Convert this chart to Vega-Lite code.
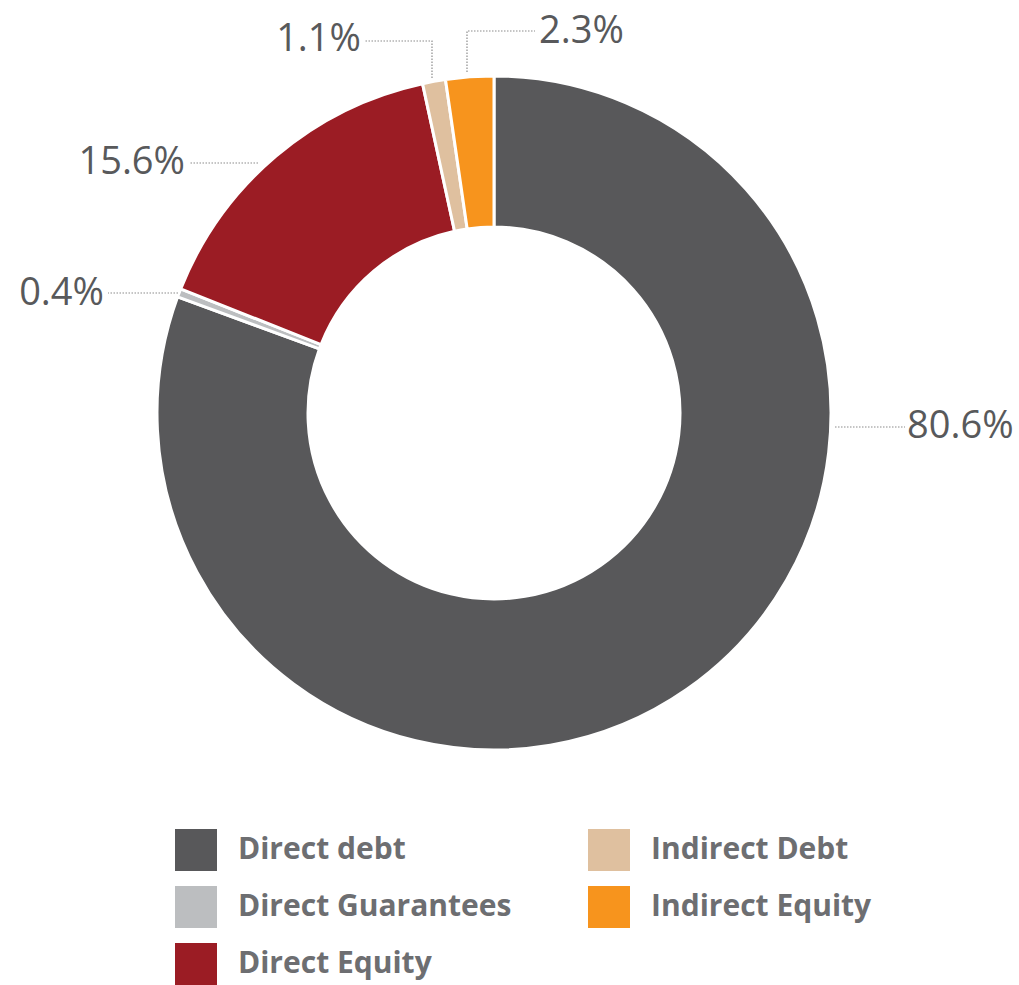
{
  "$schema": "https://vega.github.io/schema/vega-lite/v6.json",
  "width": 988,
  "height": 826,
  "padding": 0,
  "background": "white",
  "config": {"view": {"stroke": null}},
  "data": {
    "values": [
      {"category": "Direct debt", "share": 0.806, "rank": 1},
      {"category": "Direct Guarantees", "share": 0.004, "rank": 2},
      {"category": "Direct Equity", "share": 0.156, "rank": 3},
      {"category": "Indirect Debt", "share": 0.011, "rank": 4},
      {"category": "Indirect Equity", "share": 0.023, "rank": 5}
    ]
  },
  "resolve": {"legend": {"shape": "independent", "color": "independent"}},
  "layer": [
    {
      "mark": {"type": "arc", "innerRadius": 186, "outerRadius": 337, "stroke": "white", "strokeWidth": 3},
      "encoding": {
        "theta": {"field": "share", "type": "quantitative", "stack": true},
        "order": {"field": "rank", "type": "quantitative"},
        "color": {
          "field": "category",
          "type": "nominal",
          "scale": {
            "domain": ["Direct debt", "Direct Guarantees", "Direct Equity", "Indirect Debt", "Indirect Equity"],
            "range": ["#58585a", "#bcbec0", "#9b1c24", "#dfc09f", "#f7941d"]
          },
          "legend": {
            "orient": "none",
            "legendX": 175,
            "legendY": 829,
            "columns": 2,
            "title": null,
            "padding": 0,
            "symbolType": "square",
            "symbolSize": 1764,
            "symbolStrokeWidth": 0,
            "symbolOpacity": 1,
            "labelFont": "Open Sans",
            "labelFontSize": 30,
            "labelFontWeight": "bold",
            "labelColor": "#6d6e71",
            "labelOffset": 21,
            "labelLimit": 500,
            "rowPadding": 15,
            "columnPadding": 76
          }
        }
      }
    },
    {
      "mark": {"type": "point", "size": 4, "filled": false, "opacity": 1, "color": "#8c8c8c", "strokeWidth": 1.2, "strokeDash": [1.5, 1.5]},
      "encoding": {
        "shape": {
          "field": "category",
          "type": "nominal",
          "scale": {
            "domain": ["Indirect Equity", "Indirect Debt", "Direct Equity", "Direct Guarantees", "Direct debt"],
            "range": [
              "M-27,-341L-27,-382L41,-382",
              "M-62,-335L-62,-372L-129,-372",
              "M-236,-250L-304,-250",
              "M-316,-120L-386,-120",
              "M341,14L411,14"
            ]
          },
          "legend": null
        }
      }
    },
    {
      "transform": [{"filter": "datum.category === 'Direct debt'"}],
      "mark": {"type": "text", "align": "left", "baseline": "middle", "dx": 413, "dy": 14, "font": "Open Sans", "fontSize": 38, "color": "#58595b"},
      "encoding": {"text": {"field": "share", "type": "quantitative", "format": ".1%"}}
    },
    {
      "transform": [{"filter": "datum.category === 'Direct Guarantees'"}],
      "mark": {"type": "text", "align": "right", "baseline": "middle", "dx": -390, "dy": -119, "font": "Open Sans", "fontSize": 38, "color": "#58595b"},
      "encoding": {"text": {"field": "share", "type": "quantitative", "format": ".1%"}}
    },
    {
      "transform": [{"filter": "datum.category === 'Direct Equity'"}],
      "mark": {"type": "text", "align": "right", "baseline": "middle", "dx": -309, "dy": -250, "font": "Open Sans", "fontSize": 38, "color": "#58595b"},
      "encoding": {"text": {"field": "share", "type": "quantitative", "format": ".1%"}}
    },
    {
      "transform": [{"filter": "datum.category === 'Indirect Debt'"}],
      "mark": {"type": "text", "align": "right", "baseline": "middle", "dx": -133, "dy": -373, "font": "Open Sans", "fontSize": 38, "color": "#58595b"},
      "encoding": {"text": {"field": "share", "type": "quantitative", "format": ".1%"}}
    },
    {
      "transform": [{"filter": "datum.category === 'Indirect Equity'"}],
      "mark": {"type": "text", "align": "left", "baseline": "middle", "dx": 45, "dy": -381, "font": "Open Sans", "fontSize": 38, "color": "#58595b"},
      "encoding": {"text": {"field": "share", "type": "quantitative", "format": ".1%"}}
    }
  ]
}
